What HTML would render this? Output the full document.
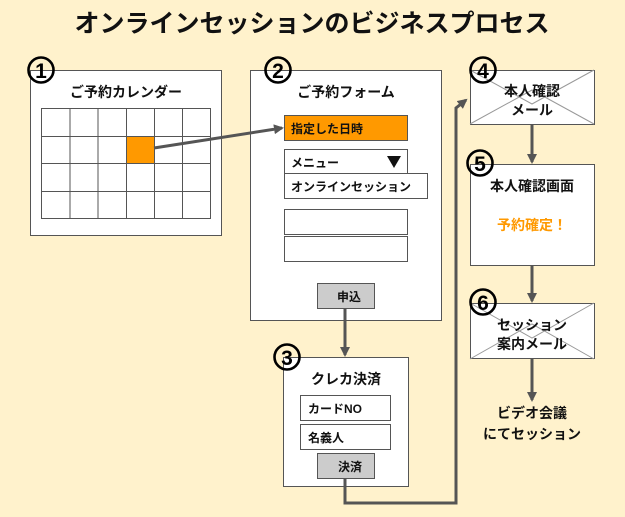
<!DOCTYPE html>
<html><head><meta charset="utf-8"><style>
html,body{margin:0;padding:0;background:#fff2cc;}
svg{display:block;font-family:"Liberation Sans","Noto Sans CJK JP",sans-serif;}
.t{font-weight:bold;fill:#111;}
.cn{fill:none;stroke:#000;stroke-width:2.6;}
.cd{font-weight:bold;fill:#000;font-size:21px;text-anchor:middle;}
</style></head><body>
<svg width="625" height="517" viewBox="0 0 625 517" xmlns="http://www.w3.org/2000/svg">
<defs><marker id="ah" markerWidth="10" markerHeight="10" refX="8" refY="5" orient="auto" markerUnits="userSpaceOnUse"><path d="M0,0 L10,5 L0,10 Z" fill="#555"/></marker></defs>
<rect width="625" height="517" fill="#fff2cc"/>
<text x="312" y="32" text-anchor="middle" class="t" font-size="25">オンラインセッションのビジネスプロセス</text>

<!-- box1 -->
<rect x="30.5" y="70.5" width="191" height="165" fill="#fff" stroke="#555"/>
<text x="126" y="97" text-anchor="middle" class="t" font-size="14">ご予約カレンダー</text>
<rect x="127" y="136" width="27" height="27" fill="#f90"/>
<g stroke="#555" fill="none">
<rect x="41.5" y="108.5" width="169" height="110"/>
<path d="M70 108v110M98 108v110M126.5 108v110M154.5 108v110M182.5 108v110M41 136.5h170M41 163.5h170M41 191.5h170"/>
</g>
<circle cx="41" cy="70" r="12.5" class="cn"/><text x="41" y="78" class="cd">1</text>

<!-- box2 -->
<rect x="250.5" y="70.5" width="191" height="250" fill="#fff" stroke="#555"/>
<text x="346" y="97" text-anchor="middle" class="t" font-size="14">ご予約フォーム</text>
<rect x="284.5" y="115.5" width="123" height="25" fill="#f90" stroke="#555"/>
<text x="291" y="133" class="t" font-size="12">指定した日時</text>
<rect x="284.5" y="149.5" width="123" height="25" fill="#fff" stroke="#555"/>
<text x="291" y="167" class="t" font-size="12">メニュー</text>
<path d="M387 156h14l-7 12z" fill="#111"/>
<rect x="284.5" y="173.5" width="143" height="25" fill="#fff" stroke="#555"/>
<text x="291" y="191" class="t" font-size="12">オンラインセッション</text>
<rect x="284.5" y="209.5" width="123" height="25" fill="#fff" stroke="#555"/>
<rect x="284.5" y="236.5" width="123" height="25" fill="#fff" stroke="#555"/>
<rect x="317.5" y="283.5" width="57" height="25" fill="#ccc" stroke="#555"/>
<text x="349" y="301" text-anchor="middle" class="t" font-size="12">申込</text>
<circle cx="278" cy="70" r="12.5" class="cn"/><text x="278" y="78" class="cd">2</text>

<!-- arrow 1->2 -->
<line x1="154" y1="148" x2="282" y2="128" stroke="#555" stroke-width="3" marker-end="url(#ah)"/>

<line x1="345" y1="308" x2="345" y2="355" stroke="#555" stroke-width="3" marker-end="url(#ah)"/>

<!-- box3 -->
<rect x="283.5" y="357.5" width="125" height="129" fill="#fff" stroke="#555"/>
<text x="346" y="384" text-anchor="middle" class="t" font-size="14">クレカ決済</text>
<rect x="300.5" y="395.5" width="90" height="25" fill="#fff" stroke="#555"/>
<text x="308" y="413" class="t" font-size="12">カードNO</text>
<rect x="300.5" y="424.5" width="90" height="25" fill="#fff" stroke="#555"/>
<text x="308" y="442" class="t" font-size="12">名義人</text>
<rect x="317.5" y="453.5" width="57" height="25" fill="#ccc" stroke="#555"/>
<text x="350" y="471" text-anchor="middle" class="t" font-size="12">決済</text>
<circle cx="287" cy="357" r="12.5" class="cn"/><text x="287" y="365" class="cd">3</text>

<path d="M345 478V503H456V108L466 100" fill="none" stroke="#555" stroke-width="3" marker-end="url(#ah)"/>

<!-- box4 -->
<rect x="470.5" y="70.5" width="124" height="54" fill="#fff" stroke="#555"/>
<path d="M470 70L532 104L594 70M470 124L532 90L594 124" stroke="#999" fill="none"/>
<text x="532" y="96" text-anchor="middle" class="t" font-size="14">本人確認</text>
<text x="532" y="115" text-anchor="middle" class="t" font-size="14">メール</text>
<circle cx="483" cy="70" r="12.5" class="cn"/><text x="483" y="78" class="cd">4</text>

<line x1="532" y1="124" x2="532" y2="162" stroke="#555" stroke-width="3" marker-end="url(#ah)"/>

<!-- box5 -->
<rect x="470.5" y="164.5" width="124" height="101" fill="#fff" stroke="#555"/>
<text x="532" y="191" text-anchor="middle" class="t" font-size="14">本人確認画面</text>
<text x="532" y="230" text-anchor="middle" font-weight="bold" fill="#f90" font-size="14">予約確定！</text>
<circle cx="480" cy="163" r="12.5" class="cn"/><text x="480" y="171" class="cd">5</text>

<line x1="532" y1="265" x2="532" y2="301" stroke="#555" stroke-width="3" marker-end="url(#ah)"/>

<!-- box6 -->
<rect x="470.5" y="303.5" width="124" height="55" fill="#fff" stroke="#555"/>
<path d="M470 303L532 338L594 303M470 359L532 324L594 359" stroke="#999" fill="none"/>
<text x="532" y="330" text-anchor="middle" class="t" font-size="14">セッション</text>
<text x="532" y="349" text-anchor="middle" class="t" font-size="14">案内メール</text>
<circle cx="483" cy="302" r="12.5" class="cn"/><text x="483" y="310" class="cd">6</text>

<line x1="532" y1="359" x2="532" y2="400" stroke="#555" stroke-width="3" marker-end="url(#ah)"/>
<text x="532" y="418" text-anchor="middle" class="t" font-size="14">ビデオ会議</text>
<text x="532" y="439" text-anchor="middle" class="t" font-size="14">にてセッション</text>
</svg>
</body></html>
